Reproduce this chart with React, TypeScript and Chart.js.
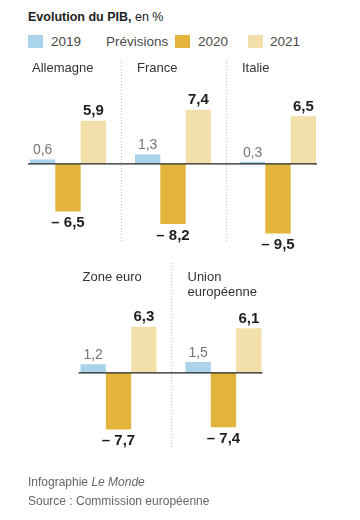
import React, { useEffect, useRef } from "react";
import { Chart, registerables } from "chart.js";
Chart.register(...registerables);

const SERIES_NAMES = ["2019", "2020", "2021"];
const SERIES_COLORS = ["#a9d4eb", "#e3b43c", "#f3dfa9"];

const TOP_CATEGORIES = [["Allemagne"], ["France"], ["Italie"]];
const TOP_2019 = [0.6, 1.3, 0.3];
const TOP_2020 = [-6.5, -8.2, -9.5];
const TOP_2021 = [5.9, 7.4, 6.5];

const BOTTOM_CATEGORIES = [["Zone euro"], ["Union", "européenne"]];
const BOTTOM_2019 = [1.2, 1.5];
const BOTTOM_2020 = [-7.7, -7.4];
const BOTTOM_2021 = [6.3, 6.1];

const FONT = "'Liberation Sans', Arial, sans-serif";

const fmt = (v: number) => {
  const s = Math.abs(v).toFixed(1).replace(".", ",");
  return v < 0 ? "– " + s : s;
};

const panelPlugin = {
  id: "panels",
  beforeDatasetsDraw(chart: any, _args: any, opts: any) {
    const { ctx, chartArea } = chart;
    const xs = chart.scales.x;
    const labels = chart.data.labels as string[][];
    const n = labels.length;
    ctx.save();
    ctx.strokeStyle = "#c4c4c4";
    ctx.lineWidth = 1;
    ctx.setLineDash([1, 2]);
    for (let i = 1; i < n; i++) {
      const x = Math.round((xs.getPixelForTick(i - 1) + xs.getPixelForTick(i)) / 2) + 0.5;
      ctx.beginPath();
      ctx.moveTo(x, chartArea.top);
      ctx.lineTo(x, chartArea.bottom);
      ctx.stroke();
    }
    ctx.setLineDash([]);
    // panel titles
    const meta0 = chart.getDatasetMeta(0);
    ctx.fillStyle = "#333";
    ctx.font = `13px ${FONT}`;
    ctx.textAlign = "left";
    ctx.textBaseline = "middle";
    for (let i = 0; i < n; i++) {
      const bar = meta0.data[i] as any;
      const left = bar.x - bar.width / 2 + 2;
      labels[i].forEach((line, j) => {
        ctx.fillText(line, left, chartArea.top + opts.titleOffset + j * 15.5);
      });
    }
    ctx.restore();
  },
  afterDatasetsDraw(chart: any) {
    const { ctx } = chart;
    const ys = chart.scales.y;
    const y0 = ys.getPixelForValue(0);
    const nSets = chart.data.datasets.length;
    const first = chart.getDatasetMeta(0).data[0] as any;
    const lastMeta = chart.getDatasetMeta(nSets - 1);
    const last = lastMeta.data[lastMeta.data.length - 1] as any;
    ctx.save();
    ctx.strokeStyle = "#222";
    ctx.lineWidth = 1.3;
    ctx.beginPath();
    ctx.moveTo(first.x - first.width / 2 - 2, y0);
    ctx.lineTo(last.x + last.width / 2 + 1, y0);
    ctx.stroke();
    ctx.textAlign = "center";
    chart.data.datasets.forEach((ds: any, di: number) => {
      const meta = chart.getDatasetMeta(di);
      meta.data.forEach((bar: any, i: number) => {
        const v = ds.data[i] as number;
        if (di === 0) {
          ctx.font = `14px ${FONT}`;
          ctx.fillStyle = "#777";
        } else {
          ctx.font = `bold 15px ${FONT}`;
          ctx.fillStyle = "#1e1e1e";
        }
        if (v >= 0) {
          ctx.textBaseline = "bottom";
          ctx.fillText(fmt(v), bar.x, bar.y - 2);
        } else {
          ctx.textBaseline = "top";
          ctx.fillText(fmt(v), bar.x, bar.y + 4);
        }
      });
    });
    ctx.restore();
  },
};

type RowProps = {
  categories: string[][];
  s2019: number[];
  s2020: number[];
  s2021: number[];
  yMin: number;
  yMax: number;
  padding: { left: number; right: number; top: number; bottom: number };
  titleOffset: number;
  style: React.CSSProperties;
  width: number;
  height: number;
};

function Row(p: RowProps) {
  const ref = useRef<HTMLCanvasElement>(null);
  useEffect(() => {
    if (!ref.current) return;
    const series = [p.s2019, p.s2020, p.s2021];
    const chart = new Chart(ref.current, {
      type: "bar",
      data: {
        labels: p.categories as any,
        datasets: series.map((d, i) => ({
          label: SERIES_NAMES[i],
          data: d,
          backgroundColor: SERIES_COLORS[i],
          borderWidth: 0,
          barPercentage: 1,
          categoryPercentage: 0.724,
        })),
      },
      options: {
        animation: false,
        responsive: false,
        maintainAspectRatio: false,
        layout: { padding: p.padding },
        plugins: {
          legend: { display: false },
          tooltip: { enabled: false },
          panels: { titleOffset: p.titleOffset },
        } as any,
        scales: {
          x: { display: false },
          y: { display: false, min: p.yMin, max: p.yMax },
        },
      },
      plugins: [panelPlugin],
    });
    return () => chart.destroy();
  }, []);
  return (
    <canvas
      ref={ref}
      width={p.width}
      height={p.height}
      style={{ position: "absolute", width: p.width, height: p.height, ...p.style }}
    />
  );
}

const Swatch = ({ color, left }: { color: string; left: number }) => (
  <div style={{ position: "absolute", left, top: 35, width: 15, height: 13, background: color }} />
);

const legendText: React.CSSProperties = {
  position: "absolute",
  top: 33,
  fontSize: 13.5,
  color: "#4a4a4a",
  lineHeight: "18px",
  whiteSpace: "nowrap",
};

export default function App() {
  return (
    <div
      style={{
        position: "fixed",
        left: 0,
        top: 0,
        width: 360,
        height: 520,
        background: "#fff",
        fontFamily: FONT,
        overflow: "hidden",
      }}
    >
      <div style={{ position: "absolute", left: 28, top: 8, fontSize: 12.5, color: "#222", whiteSpace: "nowrap", lineHeight: "18px" }}>
        <b>Evolution du PIB,</b> en %
      </div>
      <Swatch color={SERIES_COLORS[0]} left={28} />
      <div style={{ ...legendText, left: 51 }}>{SERIES_NAMES[0]}</div>
      <div style={{ ...legendText, left: 106 }}>Prévisions</div>
      <Swatch color={SERIES_COLORS[1]} left={175} />
      <div style={{ ...legendText, left: 198 }}>{SERIES_NAMES[1]}</div>
      <Swatch color={SERIES_COLORS[2]} left={248} />
      <div style={{ ...legendText, left: 270 }}>{SERIES_NAMES[2]}</div>

      <Row
        categories={TOP_CATEGORIES}
        s2019={TOP_2019}
        s2020={TOP_2020}
        s2021={TOP_2021}
        yMin={-10.8}
        yMax={14.2}
        padding={{ left: 15.5, right: 29.5, top: 20, bottom: 17 }}
        titleOffset={8}
        width={360}
        height={220}
        style={{ left: 0, top: 40 }}
      />
      <Row
        categories={BOTTOM_CATEGORIES}
        s2019={BOTTOM_2019}
        s2020={BOTTOM_2020}
        s2021={BOTTOM_2021}
        yMin={-10.1}
        yMax={15}
        padding={{ left: 66, right: 84, top: 8, bottom: 23 }}
        titleOffset={14}
        width={360}
        height={215}
        style={{ left: 0, top: 255 }}
      />

      <div style={{ position: "absolute", left: 28, top: 474, fontSize: 12, color: "#666", lineHeight: "17px", whiteSpace: "nowrap" }}>
        Infographie <i>Le Monde</i>
      </div>
      <div style={{ position: "absolute", left: 28, top: 493, fontSize: 12, color: "#666", lineHeight: "17px", whiteSpace: "nowrap" }}>
        Source : Commission européenne
      </div>
    </div>
  );
}
